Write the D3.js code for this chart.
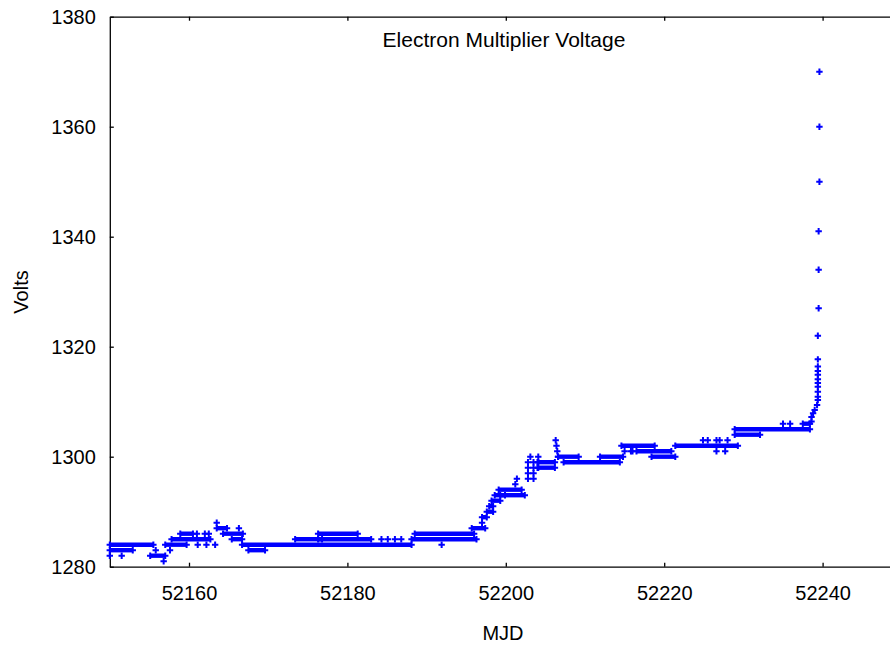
<!DOCTYPE html>
<html>
<head>
<meta charset="utf-8">
<script src="https://cdn.jsdelivr.net/npm/d3@7"></script>
<style>
  html, body { margin: 0; padding: 0; background: #fff; overflow: hidden; }
  svg { display: block; }
  text { font-family: "Liberation Sans", Arial, sans-serif; fill: #000; }
</style>
</head>
<body>
<svg id="chart" width="890" height="648"></svg>
<script>
// Axis ticks
const xTicks = [52160, 52180, 52200, 52220, 52240];
const yTicks = [1280, 1300, 1320, 1340, 1360, 1380];

// Densely sampled stretches at a constant voltage: [MJD start, MJD end, volts]
const runs = [
  [52150.0, 52155.5, 1284],
  [52150.0, 52152.9, 1283],
  [52155.1, 52157.0, 1282],
  [52157.0, 52159.7, 1284],
  [52157.8, 52162.7, 1285],
  [52158.9, 52160.5, 1286],
  [52163.5, 52164.8, 1287],
  [52164.3, 52166.8, 1286],
  [52165.4, 52166.7, 1285],
  [52166.7, 52188.1, 1284],
  [52167.5, 52169.6, 1283],
  [52173.4, 52176.8, 1285],
  [52176.3, 52181.3, 1286],
  [52176.3, 52183.0, 1285],
  [52188.1, 52196.3, 1285],
  [52188.5, 52196.0, 1286],
  [52195.7, 52197.4, 1287],
  [52197.0, 52197.6, 1289],
  [52197.6, 52198.4, 1290],
  [52197.9, 52198.4, 1291],
  [52198.2, 52199.3, 1292],
  [52198.6, 52199.9, 1293],
  [52199.1, 52202.0, 1294],
  [52199.3, 52202.4, 1293],
  [52204.1, 52206.2, 1299],
  [52204.1, 52206.2, 1298],
  [52206.6, 52209.2, 1300],
  [52207.3, 52214.4, 1299],
  [52211.9, 52214.8, 1300],
  [52214.6, 52218.8, 1302],
  [52216.5, 52220.9, 1301],
  [52218.4, 52221.4, 1300],
  [52221.4, 52229.3, 1302],
  [52228.9, 52232.1, 1304],
  [52228.9, 52238.4, 1305],
  [52237.5, 52238.4, 1306]
];

// Individual readings: [MJD, volts]
const readings = [
  [52150.0, 1282], [52151.5, 1282], [52155.8, 1283], [52157.6, 1283], [52156.8, 1281],
  [52161.0, 1286], [52162.0, 1286], [52162.5, 1286],
  [52161.1, 1284], [52162.2, 1284], [52163.3, 1284],
  [52163.5, 1288], [52166.3, 1287],
  [52184.3, 1285], [52185.1, 1285], [52186.0, 1285], [52186.8, 1285], [52191.9, 1284],
  [52197.0, 1288], [52201.2, 1295], [52201.4, 1296],
  [52202.8, 1296], [52203.5, 1296], [52202.8, 1297], [52203.5, 1297],
  [52202.8, 1298], [52203.5, 1298], [52204.0, 1298],
  [52202.8, 1299], [52203.5, 1299], [52204.0, 1299],
  [52203.1, 1300], [52204.1, 1300],
  [52206.3, 1303], [52206.4, 1302], [52206.5, 1301], [52206.6, 1300],
  [52215.0, 1301], [52215.8, 1301], [52216.0, 1301],
  [52224.9, 1303], [52225.5, 1303], [52226.6, 1303], [52227.0, 1303], [52228.0, 1303],
  [52226.6, 1301], [52227.7, 1301],
  [52235.0, 1306], [52235.9, 1306],
  [52238.6, 1306.4], [52238.6, 1307.2], [52238.8, 1307.9], [52239.0, 1308.5],
  [52239.3, 1309.4], [52239.4, 1310.3], [52239.4, 1310.9], [52239.4, 1311.8],
  [52239.4, 1312.7], [52239.4, 1313.4], [52239.4, 1314.1], [52239.4, 1314.9],
  [52239.4, 1315.6], [52239.4, 1316.4], [52239.4, 1317.7], [52239.4, 1322],
  [52239.5, 1327], [52239.5, 1334], [52239.5, 1341], [52239.6, 1350],
  [52239.6, 1360], [52239.6, 1370]
];

const svg = d3.select("#chart");
const x = d3.scaleLinear().domain([52150, 52250]).range([109.8, 901.8]);
const y = d3.scaleLinear().domain([1280, 1380]).range([566.7, 16.7]);
const blue = "#0000ff";

// Frame with inward ticks on all sides
const frame = svg.append("g").attr("class", "frame");
frame.append("g").attr("transform", `translate(0,${y(1280)})`)
  .call(d3.axisBottom(x).tickValues(xTicks).tickFormat(d3.format("d"))
    .tickSizeInner(-4).tickSizeOuter(0).tickPadding(19));
frame.append("g").attr("transform", `translate(0,${y(1380)})`)
  .call(d3.axisTop(x).tickValues(xTicks).tickFormat("")
    .tickSizeInner(-4).tickSizeOuter(0));
frame.append("g").attr("transform", `translate(${x(52150)},0)`)
  .call(d3.axisLeft(y).tickValues(yTicks).tickFormat(d3.format("d"))
    .tickSizeInner(-4).tickSizeOuter(0).tickPadding(14));
frame.append("g").attr("transform", `translate(${x(52250)},0)`)
  .call(d3.axisRight(y).tickValues(yTicks).tickFormat("")
    .tickSizeInner(-4).tickSizeOuter(0));
frame.selectAll(".domain, .tick line").attr("stroke", "#000").attr("stroke-width", 1.3);
frame.selectAll(".tick text").style("font-size", "20px").attr("fill", "#000");

// Titles
svg.append("text").attr("x", 504).attr("y", 47).attr("text-anchor", "middle")
  .style("font-size", "21px").text("Electron Multiplier Voltage");
svg.append("text").attr("x", 503).attr("y", 640).attr("text-anchor", "middle")
  .style("font-size", "20px").text("MJD");
svg.append("text").attr("transform", "translate(28,292) rotate(-90)")
  .attr("text-anchor", "middle").style("font-size", "20px").text("Volts");

// Data
const plot = svg.append("g").attr("class", "data");
plot.selectAll("line.run").data(runs).join("line")
  .attr("class", "run")
  .attr("x1", d => x(d[0])).attr("x2", d => x(d[1]))
  .attr("y1", d => y(d[2])).attr("y2", d => y(d[2]))
  .attr("stroke", blue).attr("stroke-width", 4.4);

const cross = "M-3.2,0H3.2M0,-3.2V3.2";
const ends = runs.flatMap(d => [[d[0], d[2]], [d[1], d[2]]]);
plot.selectAll("path.mark").data(ends.concat(readings)).join("path")
  .attr("class", "mark")
  .attr("transform", d => `translate(${x(d[0])},${y(d[1])})`)
  .attr("d", cross)
  .attr("stroke", blue).attr("stroke-width", 2).attr("fill", "none");
</script>
</body>
</html>
